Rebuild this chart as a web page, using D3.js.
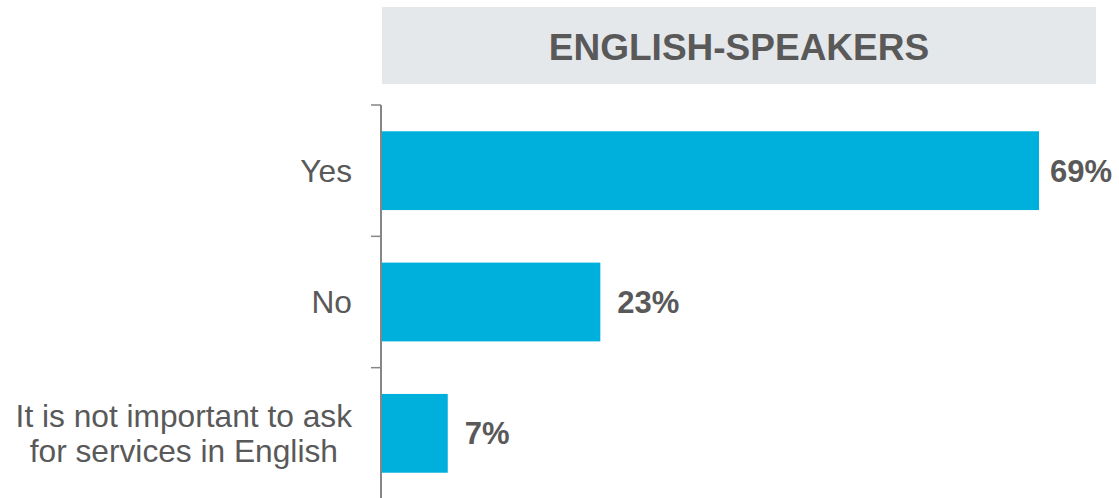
<!DOCTYPE html>
<html>
<head>
<meta charset="utf-8">
<script src="https://cdn.jsdelivr.net/npm/d3@7"></script>
<style>
  html, body { margin: 0; padding: 0; background: #fff; }
  svg { display: block; font-family: "Liberation Sans", Arial, sans-serif; }
</style>
</head>
<body>
<svg id="chart" width="1119" height="498"></svg>
<script>
var title = "ENGLISH-SPEAKERS";
var categories = ["Yes", "No", "It is not important to ask\nfor services in English"];
var values = [69, 23, 7];

var svg = d3.select("#chart"),
    width = 1119,
    height = 498;

var x0 = 381;
var xScale = d3.scaleLinear().domain([0, 69]).range([x0, 1039]);
var yScale = d3.scaleBand().domain(categories).range([105, 499])
    .paddingInner(0.4).paddingOuter(0.2);

// header box
svg.append("rect")
  .attr("x", 382).attr("y", 7)
  .attr("width", 714).attr("height", 77)
  .attr("fill", "#e5e8eb");

svg.append("text")
  .attr("x", 739).attr("y", 60)
  .attr("text-anchor", "middle")
  .attr("font-size", 37).attr("font-weight", "bold")
  .attr("fill", "#595959")
  .text(title);

// bars
svg.selectAll(".bar")
  .data(values)
  .enter().append("rect")
  .attr("class", "bar")
  .attr("x", x0)
  .attr("y", function(d, i) { return yScale(categories[i]); })
  .attr("width", function(d) { return xScale(d) - x0; })
  .attr("height", yScale.bandwidth())
  .attr("fill", "#00b0dc");

// value labels (kept inside the page on the right)
svg.selectAll(".val")
  .data(values)
  .enter().append("text")
  .attr("class", "val")
  .attr("x", function(d) { return Math.min(xScale(d) + 17, width - 69); })
  .attr("y", function(d, i) { return yScale(categories[i]) + yScale.bandwidth() / 2; })
  .attr("dy", "0.35em")
  .attr("font-size", 31).attr("font-weight", "bold")
  .attr("fill", "#595959")
  .text(function(d) { return d + "%"; });

// axis line + ticks between bands
var step = yScale.step();
var bounds = categories.map(function(c) { return yScale(c) - step * yScale.paddingInner() / 2; });
bounds.push(yScale.range()[1]);

svg.append("line")
  .attr("x1", x0).attr("x2", x0)
  .attr("y1", bounds[0]).attr("y2", height)
  .attr("stroke", "#868686").attr("stroke-width", 2);

svg.selectAll(".tick")
  .data(bounds)
  .enter().append("line")
  .attr("x1", x0 - 10).attr("x2", x0)
  .attr("y1", function(d) { return d; })
  .attr("y2", function(d) { return d; })
  .attr("stroke", "#868686").attr("stroke-width", 1.5);

// category labels (multi-line centred, block right edge at 352)
var labelRight = 352;
categories.forEach(function(c) {
  var lines = c.split("\n");
  var cy = yScale(c) + yScale.bandwidth() / 2;
  var lh = 35.7;
  var t = svg.append("text")
    .attr("font-size", 31.7)
    .attr("fill", "#595959");
  lines.forEach(function(l, j) {
    t.append("tspan")
      .attr("y", cy + (j - (lines.length - 1) / 2) * lh)
      .attr("dy", "0.35em")
      .text(l);
  });
  var w = d3.max(t.selectAll("tspan").nodes(), function(n) { return n.getComputedTextLength(); });
  t.selectAll("tspan")
    .attr("text-anchor", "middle")
    .attr("x", labelRight - w / 2);
});
</script>
</body>
</html>
